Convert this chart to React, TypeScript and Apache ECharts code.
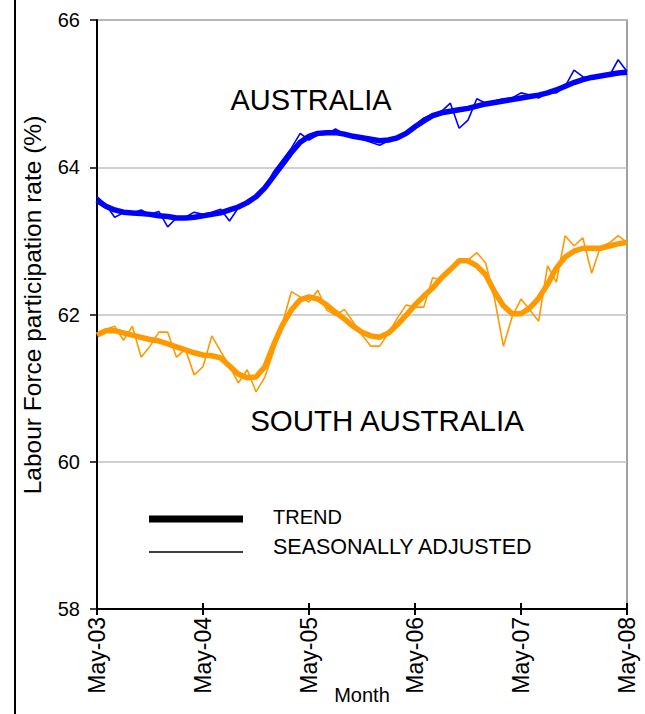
import React, { useEffect, useRef } from "react";
import * as echarts from "echarts";

const months = [
  "May-03","Jun-03","Jul-03","Aug-03","Sep-03","Oct-03","Nov-03","Dec-03","Jan-04","Feb-04","Mar-04","Apr-04",
  "May-04","Jun-04","Jul-04","Aug-04","Sep-04","Oct-04","Nov-04","Dec-04","Jan-05","Feb-05","Mar-05","Apr-05",
  "May-05","Jun-05","Jul-05","Aug-05","Sep-05","Oct-05","Nov-05","Dec-05","Jan-06","Feb-06","Mar-06","Apr-06",
  "May-06","Jun-06","Jul-06","Aug-06","Sep-06","Oct-06","Nov-06","Dec-06","Jan-07","Feb-07","Mar-07","Apr-07",
  "May-07","Jun-07","Jul-07","Aug-07","Sep-07","Oct-07","Nov-07","Dec-07","Jan-08","Feb-08","Mar-08","Apr-08",
  "May-08",
];

const ausSeasAdj = [
  63.6, 63.49, 63.32, 63.38, 63.38, 63.42, 63.36, 63.4, 63.19, 63.31, 63.32, 63.39,
  63.36, 63.39, 63.43, 63.27, 63.45, 63.51, 63.61, 63.72, 63.94, 64.1, 64.26, 64.46,
  64.37, 64.44, 64.45, 64.52, 64.45, 64.41, 64.38, 64.34, 64.3, 64.36, 64.4, 64.48,
  64.57, 64.67, 64.72, 64.76, 64.87, 64.53, 64.64, 64.93, 64.87, 64.9, 64.93, 64.94,
  65.01, 64.98, 64.94, 65.02, 65.01, 65.1, 65.32, 65.23, 65.2, 65.23, 65.24, 65.46,
  65.3,
];

const ausTrend = [
  63.55, 63.47, 63.42, 63.39, 63.38, 63.37, 63.36, 63.34, 63.33, 63.31, 63.31, 63.32,
  63.34, 63.36, 63.38, 63.42, 63.46, 63.52, 63.6, 63.72, 63.88, 64.04, 64.2, 64.34,
  64.42, 64.46, 64.47, 64.47, 64.45, 64.42, 64.4, 64.38, 64.36, 64.37, 64.4, 64.46,
  64.55, 64.63, 64.7, 64.74, 64.76, 64.78, 64.8, 64.83, 64.86, 64.88, 64.9, 64.92,
  64.94, 64.96, 64.98, 65.01, 65.05, 65.1, 65.15, 65.19, 65.22, 65.24, 65.26, 65.28,
  65.29,
];

const saSeasAdj = [
  61.75, 61.8, 61.84, 61.65, 61.84, 61.42, 61.57, 61.76, 61.76, 61.42, 61.53, 61.18,
  61.29, 61.71, 61.5, 61.3, 61.07, 61.25, 60.95, 61.15, 61.5, 61.88, 62.31, 62.24,
  62.17, 62.33, 62.06, 61.99, 62.07, 61.9, 61.72, 61.57, 61.57, 61.75, 61.95, 62.13,
  62.1, 62.1, 62.5, 62.47, 62.63, 62.74, 62.74, 62.84, 62.7, 62.22, 61.57, 61.97,
  62.21, 62.06, 61.91, 62.66, 62.44, 63.07, 62.93, 63.04, 62.56, 62.92, 62.97, 63.07,
  62.98,
];

const saTrend = [
  61.72, 61.78, 61.78, 61.75, 61.72, 61.69, 61.66, 61.64, 61.6, 61.56, 61.52, 61.48,
  61.45, 61.44, 61.41, 61.3, 61.19, 61.14, 61.15, 61.29, 61.59, 61.86, 62.06, 62.2,
  62.24, 62.21, 62.13, 62.03, 61.94, 61.84, 61.76, 61.71, 61.69, 61.75, 61.86, 61.99,
  62.13, 62.25, 62.36, 62.5, 62.61, 62.73, 62.73, 62.66, 62.54, 62.31, 62.12, 62.01,
  62.01, 62.09, 62.22, 62.41, 62.63, 62.78, 62.86, 62.9, 62.9, 62.9, 62.93, 62.96,
  62.98,
];

const BLUE = "#0000ff";
const ORANGE = "#ff9900";
const FONT = "Arial, 'Liberation Sans', sans-serif";

export default function App() {
  const ref = useRef<HTMLDivElement>(null);

  useEffect(() => {
    if (!ref.current) return;
    const chart = echarts.init(ref.current, null, { renderer: "svg" });
    const mayOnly = (idx: number) => idx % 12 === 0;
    chart.setOption({
      animation: false,
      backgroundColor: "#ffffff",
      textStyle: { fontFamily: FONT },
      grid: { left: 97, right: 18, top: 20, bottom: 105, show: true, borderColor: "#808080", borderWidth: 1.5 },
      xAxis: [
        {
          type: "category",
          data: months,
          boundaryGap: false,
          axisLine: { lineStyle: { color: "#000", width: 2 } },
          axisTick: { interval: mayOnly, length: 6, lineStyle: { color: "#000", width: 2 } },
          axisLabel: {
            interval: mayOnly,
            rotate: 90,
            margin: 8,
            color: "#000",
            fontSize: 23,
            fontFamily: FONT,
          },
          splitLine: { show: false },
        },
        {
          type: "category",
          data: months,
          boundaryGap: false,
          position: "bottom",
          axisLine: { show: false },
          axisTick: { interval: mayOnly, inside: true, length: 6, lineStyle: { color: "#000", width: 2 } },
          axisLabel: { show: false },
          splitLine: { show: false },
        },
      ],
      yAxis: {
        type: "value",
        min: 58,
        max: 66,
        interval: 2,
        axisLine: { show: true, lineStyle: { color: "#000", width: 2 } },
        axisTick: { show: true, length: 7, lineStyle: { color: "#000", width: 1.5 } },
        axisLabel: { margin: 17, color: "#000", fontSize: 20, fontFamily: FONT },
        splitLine: { lineStyle: { color: "#c0c0c0", width: 1.5 } },
      },
      series: [
        {
          name: "Australia seasonally adjusted",
          type: "line",
          data: ausSeasAdj,
          showSymbol: false,
          lineStyle: { color: BLUE, width: 1.6 },
          itemStyle: { color: BLUE },
        },
        {
          name: "Australia trend",
          type: "line",
          data: ausTrend,
          showSymbol: false,
          lineStyle: { color: BLUE, width: 5.5 },
          itemStyle: { color: BLUE },
        },
        {
          name: "South Australia seasonally adjusted",
          type: "line",
          data: saSeasAdj,
          showSymbol: false,
          lineStyle: { color: ORANGE, width: 1.6 },
          itemStyle: { color: ORANGE },
        },
        {
          name: "South Australia trend",
          type: "line",
          data: saTrend,
          showSymbol: false,
          lineStyle: { color: ORANGE, width: 5.5 },
          itemStyle: { color: ORANGE },
        },
      ],
      graphic: [
        { type: "line", shape: { x1: 15, y1: 0, x2: 15, y2: 714 }, style: { stroke: "#000", lineWidth: 2 } },
        {
          type: "text",
          x: 32,
          y: 305,
          rotation: Math.PI / 2,
          style: {
            text: "Labour Force participation rate (%)",
            align: "center",
            verticalAlign: "middle",
            font: `24.5px ${FONT}`,
            fill: "#000",
          },
        },
        {
          type: "text",
          x: 362,
          y: 695,
          style: { text: "Month", align: "center", verticalAlign: "middle", font: `20px ${FONT}`, fill: "#000" },
        },
        {
          type: "text",
          x: 311,
          y: 100,
          style: { text: "AUSTRALIA", align: "center", verticalAlign: "middle", font: `29px ${FONT}`, fill: "#000" },
        },
        {
          type: "text",
          x: 387,
          y: 420,
          style: { text: "SOUTH AUSTRALIA", align: "center", verticalAlign: "middle", font: `29.5px ${FONT}`, fill: "#000" },
        },
        { type: "line", shape: { x1: 149, y1: 519, x2: 243, y2: 519 }, style: { stroke: "#000", lineWidth: 7 } },
        { type: "line", shape: { x1: 149, y1: 552, x2: 243, y2: 552 }, style: { stroke: "#000", lineWidth: 1.5 } },
        {
          type: "text",
          x: 273,
          y: 517,
          style: { text: "TREND", align: "left", verticalAlign: "middle", font: `20px ${FONT}`, fill: "#000" },
        },
        {
          type: "text",
          x: 273,
          y: 547,
          style: { text: "SEASONALLY ADJUSTED", align: "left", verticalAlign: "middle", font: `21.5px ${FONT}`, fill: "#000" },
        },
      ],
    });
    return () => chart.dispose();
  }, []);

  return (
    <div
      ref={ref}
      style={{ position: "fixed", left: 0, top: 0, width: 645, height: 714, background: "#fff" }}
    />
  );
}
